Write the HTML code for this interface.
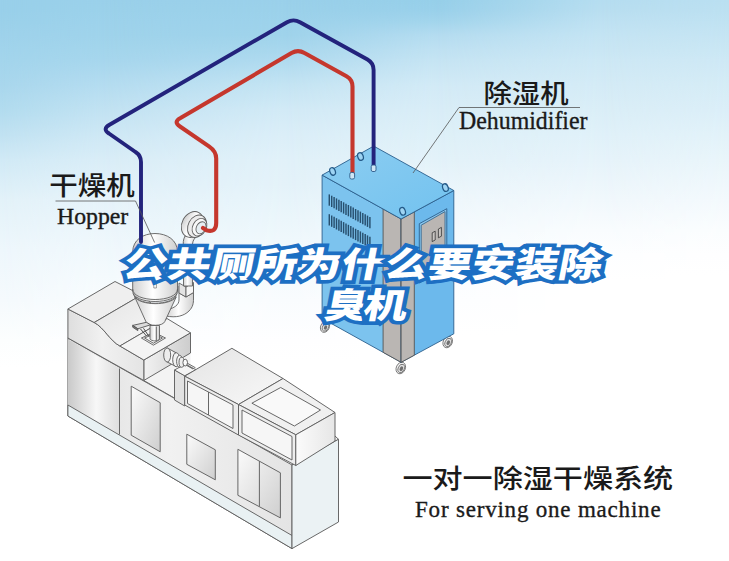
<!DOCTYPE html>
<html lang="zh">
<head>
<meta charset="utf-8">
<title>公共厕所为什么要安装除臭机</title>
<style>
html,body{margin:0;padding:0;background:#fff;}
body{width:729px;height:561px;overflow:hidden;position:relative;font-family:"Liberation Sans","Noto Sans CJK SC",sans-serif;}
svg{position:absolute;left:0;top:0;display:block;}
.cn{font-family:"Liberation Sans","Noto Sans CJK SC",sans-serif;fill:#1a1a1a;}
.en{font-family:"Liberation Serif","Noto Serif CJK SC",serif;fill:#1a1a1a;}
.hl{font-family:"Liberation Sans","Noto Sans CJK SC",sans-serif;font-weight:900;}
</style>
</head>
<body>
<svg width="729" height="561" viewBox="0 0 729 561">
<!-- BG-START -->
<defs>
<linearGradient id="bgc0" gradientUnits="userSpaceOnUse" x1="0" y1="0" x2="0" y2="561"><stop offset="0.0000" stop-color="#99d0ea"/><stop offset="0.0178" stop-color="#99d0ea"/><stop offset="0.0392" stop-color="#9bd1ea"/><stop offset="0.0624" stop-color="#9ed2eb"/><stop offset="0.0891" stop-color="#a1d4ec"/><stop offset="0.1070" stop-color="#a3d5ec"/><stop offset="0.1515" stop-color="#a9d7ed"/><stop offset="0.1961" stop-color="#b2dcef"/><stop offset="0.2406" stop-color="#c1e2f2"/><stop offset="0.2852" stop-color="#d1eaf6"/><stop offset="0.3565" stop-color="#e3f2f9"/><stop offset="0.4456" stop-color="#eef7fc"/><stop offset="0.5348" stop-color="#f5fafd"/><stop offset="0.6061" stop-color="#fcfefe"/><stop offset="0.6560" stop-color="#ffffff"/><stop offset="1" stop-color="#ffffff"/></linearGradient>
<linearGradient id="bgc1" gradientUnits="userSpaceOnUse" x1="0" y1="0" x2="0" y2="561"><stop offset="0.0000" stop-color="#9ad0ea"/><stop offset="0.0178" stop-color="#9bd1ea"/><stop offset="0.0392" stop-color="#9dd2eb"/><stop offset="0.0624" stop-color="#9fd3eb"/><stop offset="0.0891" stop-color="#a3d5ec"/><stop offset="0.1070" stop-color="#a6d6ed"/><stop offset="0.1515" stop-color="#b4dcf0"/><stop offset="0.1961" stop-color="#c1e2f2"/><stop offset="0.2406" stop-color="#cee8f5"/><stop offset="0.2852" stop-color="#d9edf7"/><stop offset="0.3565" stop-color="#e6f3fa"/><stop offset="0.4456" stop-color="#f0f8fc"/><stop offset="0.5348" stop-color="#f8fcfe"/><stop offset="0.6061" stop-color="#fdfeff"/><stop offset="0.6506" stop-color="#ffffff"/><stop offset="1" stop-color="#ffffff"/></linearGradient>
<linearGradient id="bgm1" gradientUnits="userSpaceOnUse" x1="0" y1="0" x2="729" y2="0"><stop offset="0.0000" stop-color="#000"/><stop offset="0.1372" stop-color="#fff"/></linearGradient>
<mask id="bgk1" maskUnits="userSpaceOnUse" x="0" y="0" width="729" height="561"><rect width="729" height="561" fill="url(#bgm1)"/></mask>
<linearGradient id="bgc2" gradientUnits="userSpaceOnUse" x1="0" y1="0" x2="0" y2="561"><stop offset="0.0000" stop-color="#9ad0ea"/><stop offset="0.0178" stop-color="#9bd1ea"/><stop offset="0.0392" stop-color="#9dd2eb"/><stop offset="0.0624" stop-color="#9fd3eb"/><stop offset="0.0891" stop-color="#a8d7ed"/><stop offset="0.1070" stop-color="#afdaef"/><stop offset="0.1515" stop-color="#c4e4f3"/><stop offset="0.1961" stop-color="#d2eaf6"/><stop offset="0.2406" stop-color="#dbeef8"/><stop offset="0.2852" stop-color="#e1f1f9"/><stop offset="0.3298" stop-color="#e4f2f9"/><stop offset="0.3565" stop-color="#e7f4fa"/><stop offset="0.4278" stop-color="#eff8fc"/><stop offset="0.5348" stop-color="#f9fcfe"/><stop offset="0.6061" stop-color="#fefeff"/><stop offset="0.6417" stop-color="#ffffff"/><stop offset="1" stop-color="#ffffff"/></linearGradient>
<linearGradient id="bgm2" gradientUnits="userSpaceOnUse" x1="0" y1="0" x2="729" y2="0"><stop offset="0.1372" stop-color="#000"/><stop offset="0.3909" stop-color="#fff"/></linearGradient>
<mask id="bgk2" maskUnits="userSpaceOnUse" x="0" y="0" width="729" height="561"><rect width="729" height="561" fill="url(#bgm2)"/></mask>
<linearGradient id="bgc3" gradientUnits="userSpaceOnUse" x1="0" y1="0" x2="0" y2="561"><stop offset="0.0000" stop-color="#96cfe9"/><stop offset="0.0178" stop-color="#99d0ea"/><stop offset="0.0392" stop-color="#a3d5ec"/><stop offset="0.0624" stop-color="#b4dcf0"/><stop offset="0.0891" stop-color="#bfe1f2"/><stop offset="0.1070" stop-color="#c5e4f3"/><stop offset="0.1515" stop-color="#d2eaf6"/><stop offset="0.1961" stop-color="#d9edf7"/><stop offset="0.2406" stop-color="#def0f8"/><stop offset="0.2852" stop-color="#e3f2f9"/><stop offset="0.3565" stop-color="#eef7fc"/><stop offset="0.4456" stop-color="#f8fcfe"/><stop offset="0.5348" stop-color="#fdfeff"/><stop offset="0.5971" stop-color="#ffffff"/><stop offset="1" stop-color="#ffffff"/></linearGradient>
<linearGradient id="bgm3" gradientUnits="userSpaceOnUse" x1="0" y1="0" x2="729" y2="0"><stop offset="0.3909" stop-color="#000"/><stop offset="0.5967" stop-color="#fff"/></linearGradient>
<mask id="bgk3" maskUnits="userSpaceOnUse" x="0" y="0" width="729" height="561"><rect width="729" height="561" fill="url(#bgm3)"/></mask>
<linearGradient id="bgc4" gradientUnits="userSpaceOnUse" x1="0" y1="0" x2="0" y2="561"><stop offset="0.0000" stop-color="#b5ddf0"/><stop offset="0.0178" stop-color="#b8def0"/><stop offset="0.0392" stop-color="#bee1f2"/><stop offset="0.0624" stop-color="#c4e4f3"/><stop offset="0.0891" stop-color="#c9e6f4"/><stop offset="0.1070" stop-color="#cde8f5"/><stop offset="0.1515" stop-color="#d4ebf6"/><stop offset="0.1961" stop-color="#daeef7"/><stop offset="0.2406" stop-color="#e0f1f9"/><stop offset="0.2852" stop-color="#e6f3fa"/><stop offset="0.3565" stop-color="#f1f8fc"/><stop offset="0.4100" stop-color="#f9fcfe"/><stop offset="0.4545" stop-color="#fdfeff"/><stop offset="0.4991" stop-color="#ffffff"/><stop offset="1" stop-color="#ffffff"/></linearGradient>
<linearGradient id="bgm4" gradientUnits="userSpaceOnUse" x1="0" y1="0" x2="729" y2="0"><stop offset="0.5967" stop-color="#000"/><stop offset="0.8230" stop-color="#fff"/></linearGradient>
<mask id="bgk4" maskUnits="userSpaceOnUse" x="0" y="0" width="729" height="561"><rect width="729" height="561" fill="url(#bgm4)"/></mask>
<linearGradient id="bgc5" gradientUnits="userSpaceOnUse" x1="0" y1="0" x2="0" y2="561"><stop offset="0.0000" stop-color="#badff1"/><stop offset="0.0178" stop-color="#bce0f1"/><stop offset="0.0392" stop-color="#c0e2f2"/><stop offset="0.0624" stop-color="#c5e4f3"/><stop offset="0.0891" stop-color="#cae7f4"/><stop offset="0.1070" stop-color="#cee8f5"/><stop offset="0.1515" stop-color="#d5ecf6"/><stop offset="0.1961" stop-color="#dbeef8"/><stop offset="0.2406" stop-color="#e2f2f9"/><stop offset="0.2852" stop-color="#e9f5fa"/><stop offset="0.3565" stop-color="#f3f9fd"/><stop offset="0.4100" stop-color="#fafdfe"/><stop offset="0.4545" stop-color="#fefeff"/><stop offset="0.4902" stop-color="#ffffff"/><stop offset="1" stop-color="#ffffff"/></linearGradient>
<linearGradient id="bgm5" gradientUnits="userSpaceOnUse" x1="0" y1="0" x2="729" y2="0"><stop offset="0.8230" stop-color="#000"/><stop offset="1.0000" stop-color="#fff"/></linearGradient>
<mask id="bgk5" maskUnits="userSpaceOnUse" x="0" y="0" width="729" height="561"><rect width="729" height="561" fill="url(#bgm5)"/></mask>
</defs>
<!-- background -->
<rect width="729" height="561" fill="url(#bgc0)"/>
<rect x="0" width="729" height="380" fill="url(#bgc1)" mask="url(#bgk1)"/>
<rect x="100" width="629" height="380" fill="url(#bgc2)" mask="url(#bgk2)"/>
<rect x="285" width="444" height="380" fill="url(#bgc3)" mask="url(#bgk3)"/>
<rect x="435" width="294" height="380" fill="url(#bgc4)" mask="url(#bgk4)"/>
<rect x="600" width="129" height="380" fill="url(#bgc5)" mask="url(#bgk5)"/>
<!-- BG-END -->

<!-- BODY-MACHINE-START -->
<defs>
  <linearGradient id="gFront" x1="0" y1="0" x2="1" y2="0">
    <stop offset="0" stop-color="#dedede"/><stop offset="0.45" stop-color="#f1f1f1"/><stop offset="1" stop-color="#e4e4e4"/>
  </linearGradient>
  <linearGradient id="gLeftPanel" x1="0" y1="0" x2="1" y2="0">
    <stop offset="0" stop-color="#c9c9c9"/><stop offset="0.55" stop-color="#f7f7f7"/><stop offset="1" stop-color="#dedede"/>
  </linearGradient>
  <linearGradient id="gPanel" x1="0" y1="0" x2="1" y2="1">
    <stop offset="0" stop-color="#fbfbfb"/><stop offset="1" stop-color="#cfcfcf"/>
  </linearGradient>
  <linearGradient id="gTop" x1="0" y1="0" x2="1" y2="1">
    <stop offset="0" stop-color="#e4e4e4"/><stop offset="1" stop-color="#f8f8f8"/>
  </linearGradient>
  <linearGradient id="gSideR" x1="0" y1="0" x2="1" y2="0"><stop offset="0" stop-color="#f2f2f2"/><stop offset="1" stop-color="#cdcdcd"/></linearGradient>
  <linearGradient id="gSide2" x1="0" y1="0" x2="1" y2="0"><stop offset="0" stop-color="#fbfbfb"/><stop offset="1" stop-color="#e6e6e6"/></linearGradient>
  <linearGradient id="gSide" x1="0" y1="0" x2="1" y2="0">
    <stop offset="0" stop-color="#d9d9d9"/><stop offset="1" stop-color="#efefef"/>
  </linearGradient>
  <linearGradient id="gCyl" x1="0" y1="0" x2="1" y2="0">
    <stop offset="0" stop-color="#d0d0d0"/><stop offset="0.45" stop-color="#ffffff"/><stop offset="1" stop-color="#cfcfcf"/>
  </linearGradient>
</defs>
<g id="machine" stroke="#606060" stroke-width="0.95" stroke-linejoin="round">
  <!-- main body top -->
  <polygon points="143.8,380.5 190.4,353.2 190.4,366.5 184.7,376.2 184.7,405" fill="#f3f3f3" stroke="none"/>
  <path d="M143.8 380.5 L184.7 404" fill="none"/>
  <polygon points="292,465 300,455 335,436 338.5,439.3" fill="#f3f3f3"/>
  <!-- main body front -->
  <polygon points="67.9,338 292,465 292,548.6 67.9,416" fill="url(#gFront)"/>
  <!-- left gradient region -->
  <polygon points="67.9,339.5 119.5,368.5 119.5,434.5 67.9,405" fill="url(#gLeftPanel)" stroke="none"/>
  <path d="M119.5 368.5 V434.5" fill="none"/>
  <!-- base strip front -->
  <polygon points="67.9,405 292,535.5 292,548.6 67.9,416" fill="#e9f1f3"/>
  <!-- main right face -->
  <polygon points="292,465 338.5,439.3 338.5,522 292,548.6" fill="#ebf2f4"/>
  
  <!-- front panels -->
  <polygon points="131.2,386.2 160.2,402.7 160.2,451.8 131.2,435.2" fill="url(#gPanel)"/>
  <polygon points="186.8,434.2 215.3,449.8 215.3,479.8 186.8,464.3" fill="url(#gPanel)"/>
  <polygon points="237.9,449.3 280.4,472.8 280.4,517.9 237.9,495.3" fill="url(#gPanel)"/>
  <path d="M259.4 461.2 V506.5" fill="none"/>

  <!-- step box (left) -->
  <polygon points="143.8,360 190.5,332.8 190.5,353 143.8,380.5" fill="url(#gSideR)"/>
  <path d="M67.9 309 L94.2 322.5 C104 327.5 110 341 119.9 346 L143.8 360 V380.5 L67.9 338 Z" fill="url(#gFront)"/>
  <polygon points="67.9,309 115,281.5 141.3,295 94.2,322.5" fill="#efefef"/>
  <path d="M94.2 322.5 L141.3 295 C151 300 157 313.5 167 318.5 L119.9 346 C110 341 104 327.5 94.2 322.5 Z" fill="url(#gTop)"/>
  <polygon points="119.9,346 167,318.5 190.5,332.8 143.8,360" fill="#f4f4f4"/>


  <!-- small block before mid box -->
  <polygon points="174.5,370 184.7,375.5 184.7,406 174.5,400" fill="#e2e2e2"/>
  <polygon points="174.5,370 185.3,364 196,369.8 184.7,375.8" fill="#f4f4f4"/>

  <!-- nozzle -->
  <g>
    <path d="M167.2 348 L176.2 352.8 L176.2 366.6 L167.2 362 Z" fill="url(#gCyl)" stroke="none"/>
    <path d="M167.2 348 L176.2 352.8 M167.2 362 L176.2 366.6" fill="none"/>
    <ellipse cx="167.2" cy="355" rx="3.5" ry="7" fill="#ececec"/>
    <ellipse cx="176.2" cy="359.7" rx="3.5" ry="7" fill="#f2f2f2"/>
    <ellipse cx="179.6" cy="361.3" rx="3" ry="6" fill="#f6f6f6"/>
    <ellipse cx="181.6" cy="362.3" rx="2.6" ry="5" fill="#ededed"/>
    <ellipse cx="185.2" cy="362.6" rx="2.3" ry="3.4" fill="#fafafa"/>
    <path d="M187.3 363.2 L195.5 367.8 M186.5 365.3 L193 369" fill="none"/>
  </g>

  <!-- mid box -->
  <polygon points="184.7,376.2 231.9,348.3 283,378.5 238.5,404.5" fill="url(#gTop)"/>
  <polygon points="184.7,376.2 238.5,404.5 238.5,435 184.7,405" fill="#ececec"/>
  <polygon points="187.5,381 233,405 233,428.5 187.5,403.5" fill="#f6f6f6"/>
  <path d="M208.5 392 V415" fill="none"/>

  <!-- right box -->
  <polygon points="238.5,404.5 283,378.5 335,412.5 295.8,434.8" fill="#f0f0f0"/>
  <polygon points="251.9,403.2 280.7,387.5 320.5,410 294.4,426" fill="#f9f9f9"/>
  <polygon points="238.5,404.5 295.8,434.8 295.8,465.5 238.5,435" fill="#ededed"/>
  <polygon points="242,410 292,436.5 292,460 242,433" fill="#f6f6f6"/>
  <polygon points="295.8,434.8 335,412.5 335,441 295.8,465.5" fill="url(#gSide2)"/>
</g>
<!-- BODY-MACHINE-END -->
<!-- DEHUM-START -->
<defs>
  <linearGradient id="dTop" x1="0" y1="0" x2="1" y2="1">
    <stop offset="0" stop-color="#8ccdf1"/><stop offset="1" stop-color="#72c2ef"/>
  </linearGradient>
</defs>
<g id="dehum" stroke="#2b5f8c" stroke-width="0.9" stroke-linejoin="round">
  <!-- wheels -->
  <g stroke="#6a6a6a" stroke-width="0.8" fill="#f4f4f4">
    <g transform="rotate(25 325 326.8)"><ellipse cx="325" cy="326.8" rx="4.3" ry="5.8"/><ellipse cx="325.6" cy="327" rx="2.9" ry="4.2" fill="#e2e2e2"/><ellipse cx="325.8" cy="327.2" rx="1.5" ry="2.3" fill="#6f6f6f" stroke="none"/></g>
    <g transform="rotate(25 400.8 368)"><ellipse cx="400.8" cy="368" rx="4.5" ry="6"/><ellipse cx="401.4" cy="368.2" rx="3" ry="4.4" fill="#e2e2e2"/><ellipse cx="401.6" cy="368.4" rx="1.6" ry="2.5" fill="#6f6f6f" stroke="none"/></g>
    <g transform="rotate(25 447.7 342)"><ellipse cx="447.7" cy="342" rx="4.5" ry="6"/><ellipse cx="448.3" cy="342.2" rx="3" ry="4.4" fill="#e2e2e2"/><ellipse cx="448.5" cy="342.4" rx="1.6" ry="2.5" fill="#6f6f6f" stroke="none"/></g>
  </g>
  <!-- left face -->
  <polygon points="322.1,175.1 401.1,219 401.1,362.3 322.1,318.4" fill="#7cc3ee"/>
  <polygon points="383.1,209 401.1,219 401.1,362.3 383.1,352.3" fill="#bab6b3" stroke="#555"/>
  <!-- right face -->
  <polygon points="401.1,219 453.8,190.5 453.8,333.8 401.1,362.3" fill="#6cb9ec"/>
  <polygon points="401.1,219 414.3,211.9 414.3,355.2 401.1,362.3" fill="#bab6b3" stroke="#555"/>
  <!-- top face -->
  <polygon points="322.1,175.1 373.7,146.1 453.8,190.5 401.1,219" fill="url(#dTop)"/>
  <!-- control panel -->
  <polygon points="419.3,223.7 446.8,208.7 446.8,268 419.3,283" fill="#8ac6ec"/>
  <polygon points="421.2,225.2 445,211.6 445,266 421.2,279" fill="#bab6b3" stroke="#3a6a90"/>
  <g fill="#c9c5c2" stroke="#333" stroke-width="0.8">
    <polygon points="432.2,232.8 435.2,231.2 435.2,240 432.2,241.6"/>
    <polygon points="438.4,229 441.4,227.4 441.4,236.2 438.4,237.8"/>
  </g>
  <!-- vents -->
  <g id="vents" stroke="#274f6e" stroke-width="1.45" fill="none">
<path d="M329.3 194.4 V205.7"/>
<path d="M331.7 195.7 V207.0"/>
<path d="M334.1 197.0 V208.3"/>
<path d="M336.5 198.4 V209.7"/>
<path d="M338.9 199.7 V211.0"/>
<path d="M341.2 201.0 V212.3"/>
<path d="M343.6 202.3 V213.6"/>
<path d="M346.0 203.7 V215.0"/>
<path d="M348.4 205.0 V216.3"/>
<path d="M350.8 206.3 V217.6"/>
<path d="M353.2 207.6 V218.9"/>
<path d="M355.6 209.0 V220.3"/>
<path d="M358.0 210.3 V221.6"/>
<path d="M360.4 211.6 V222.9"/>
<path d="M362.8 212.9 V224.2"/>
<path d="M365.2 214.3 V225.6"/>
<path d="M367.5 215.6 V226.9"/>
<path d="M369.9 216.9 V228.2"/>
<path d="M329.3 214.2 V225.5"/>
<path d="M331.7 215.5 V226.8"/>
<path d="M334.1 216.8 V228.1"/>
<path d="M336.5 218.2 V229.5"/>
<path d="M338.9 219.5 V230.8"/>
<path d="M341.2 220.8 V232.1"/>
<path d="M343.6 222.1 V233.4"/>
<path d="M346.0 223.5 V234.8"/>
<path d="M348.4 224.8 V236.1"/>
<path d="M350.8 226.1 V237.4"/>
<path d="M353.2 227.4 V238.7"/>
<path d="M355.6 228.8 V240.1"/>
<path d="M358.0 230.1 V241.4"/>
<path d="M360.4 231.4 V242.7"/>
<path d="M362.8 232.7 V244.0"/>
<path d="M365.2 234.1 V245.4"/>
<path d="M367.5 235.4 V246.7"/>
<path d="M369.9 236.7 V248.0"/>
  </g>
  <!-- eye bolts -->
  <g fill="#9ed4f3" stroke="#245a88" stroke-width="1.25">
    <ellipse cx="332.6" cy="171.4" rx="2.7" ry="3.9" transform="rotate(-20 332.6 171.4)"/>
    <ellipse cx="360.5" cy="156.5" rx="2.7" ry="3.9" transform="rotate(-20 360.5 156.5)"/>
    <ellipse cx="445.4" cy="187.6" rx="2.7" ry="3.9" transform="rotate(-20 445.4 187.6)"/>
    <ellipse cx="402.6" cy="211.3" rx="2.7" ry="3.9" transform="rotate(-20 402.6 211.3)"/>
  </g>
</g>
<!-- DEHUM-END -->
<!-- HOPPER-START -->
<g id="hopper" stroke="#606060" stroke-width="0.9" stroke-linejoin="round" fill="#f3f3f3">
  <!-- elbow tube from blower to cone -->
  <path d="M179 286 L179 300 C179 305 174 308 168 309.5 L166 316 C176 318 184 316 189 311 C193 307 193.5 303 193.5 299 L193.5 286 Z" fill="url(#gCyl)"/>
  <path d="M179 293 L186 297 L193.5 292.5" fill="none"/>
  <polygon points="179,283 186,287 186,297 179,293" fill="#e3e3e3"/>
  <polygon points="186,287 193.5,282.5 193.5,292.5 186,297" fill="#f6f6f6"/>
  <!-- vertical tube blower->box -->
  <path d="M183.5 243 L183.5 286 L192.5 286 L192.5 243 Z" fill="url(#gCyl)"/>
  <!-- blower -->
  <path d="M185 236 C183 240 183 243 183.5 246 L192.5 246 C192.5 242 193 240 196 237 Z" fill="url(#gCyl)"/>
  <ellipse cx="192.5" cy="224.5" rx="10.5" ry="13.5" transform="rotate(28 192.5 224.5)" fill="url(#gCyl)"/>
  <ellipse cx="197" cy="226.2" rx="8.8" ry="11.8" transform="rotate(28 197 226.2)" fill="#ececec"/>
  <ellipse cx="199.5" cy="227.2" rx="6.8" ry="9.3" transform="rotate(28 199.5 227.2)" fill="#f8f8f8"/>
  <ellipse cx="201" cy="227.8" rx="4.6" ry="6.4" transform="rotate(28 201 227.8)" fill="#e6eef2"/>
  <!-- hopper cylinder -->
  <path d="M132.7 291 L132.7 252 C132.7 240 143 233.5 155 233.5 C167 233.5 177.5 240 177.5 252 L177.5 291 C177.5 305 132.7 305 132.7 291 Z" fill="url(#gCyl)"/>
  <path d="M132.7 289 C132.7 303 177.5 303 177.5 289" fill="none"/>
  <path d="M133.2 293.5 C136 306.5 174 306.5 177 293.5" fill="none"/>
  <!-- cone -->
  <path d="M134.5 296.5 C140 306 170 306 176.3 296.8 L164.8 321.5 C163 326.5 148 326.5 146 321.8 Z" fill="url(#gCyl)"/>
  <!-- sight tag -->
  <rect x="153.8" y="284" width="2.6" height="4" fill="#fff" stroke-width="0.6"/>
  <!-- base plate & neck -->
  <polygon points="141.4,338 154,332.3 165.5,338 153.4,345.2" fill="#e9e9e9"/>
  <polygon points="144.6,338 154,333.8 162.4,338 153.4,343.2" fill="#f7f7f7"/>
  <path d="M150 325.5 L150 339 C151.5 341.5 158 341.5 159.5 339 L159.5 325.5 Z" fill="url(#gCyl)"/>
  <path d="M156.3 326.5 V340.5" stroke="#555" fill="none"/>
  <!-- slide gate -->
  <polygon points="132.7,325.4 146.4,322.3 150.6,324.8 137.8,328.8" fill="#dcdcdc" stroke="#555"/>
  <polygon points="132.7,325.4 137.8,328.8 137.8,330.6 132.7,327.2" fill="#7d7d7d" stroke="#555"/>
  <path d="M140.5 329 L146.5 336 M143.5 328.3 L149 336.5" stroke="#4a4a4a" stroke-width="1" fill="none"/>
</g>
<!-- HOPPER-END -->
<!-- pipes -->
<g fill="none" stroke-linecap="round" stroke-linejoin="round">
  <path id="pipeBlue" stroke="#23237c" stroke-width="3.9" d="M141 242 L141 162 Q141 155.5 135.5 152 L109 133.5 Q102 129 109.5 124.8 L287 22.2 Q293.5 18.5 300 22.2 L367.5 59.5 Q373.6 63 373.6 70 L373.6 170"/>
  <path id="pipeRed" stroke="#c5372d" stroke-width="4.1" d="M203 228 L206.5 230.3 Q216.2 233 216.2 223 L216.2 158.5 Q216.2 151.3 209 146.4 L180 126.5 Q173 122 180.5 118 L291.5 53 Q298 49.2 304.5 53 L346.5 76.2 Q352.5 79.6 352.5 86.5 L352.5 176"/>
</g>

<!-- pipe sockets -->
<g fill="#cfe6f5" stroke="#2b5f8c" stroke-width="0.9">
  <rect x="349.8" y="172.5" width="4.8" height="6.5" rx="1.6"/>
  <rect x="371.2" y="165" width="4.8" height="6.5" rx="1.6"/>
</g>

<!-- labels -->
<g stroke="#555" stroke-width="0.8" fill="none">
  <path d="M55.5 201 L135.5 201 L154.6 242.5"/>
  <path d="M580 107.5 L459 107.5 L413 173"/>
</g>
<g class="cn" font-weight="500">
  <text transform="translate(49.3 195.4) scale(1.105 1)" font-size="25.8">干燥机</text>
  <text transform="translate(483.4 102.8) scale(1.10 1)" font-size="25.8">除湿机</text>
  <text transform="translate(402.4 488.4) scale(1.136 1)" font-size="26.5">一对一除湿干燥系统</text>
</g>
<g class="en" stroke="#1a1a1a" stroke-width="0.35">
  <text x="57" y="223.6" font-size="23" textLength="71.2" lengthAdjust="spacingAndGlyphs">Hopper</text>
  <text x="459" y="129" font-size="25" textLength="128.5" lengthAdjust="spacingAndGlyphs">Dehumidifier</text>
  <text x="415" y="516.9" font-size="23" textLength="245.6" lengthAdjust="spacing">For serving one machine</text>
</g>

<!-- headline -->
<g class="hl" font-size="35" text-anchor="middle" fill="#fff" stroke="#1d6fc3" stroke-width="7.2" stroke-linejoin="miter" stroke-miterlimit="2.5" paint-order="stroke fill" style="paint-order:stroke fill">
  <g transform="translate(364.5 266) skewX(-11) scale(1.25 1) translate(-364.5 -266)"><text x="363.6" y="277.4" textLength="383" lengthAdjust="spacing">公共厕所为什么要安装除</text></g>
  <g transform="translate(365.5 306) skewX(-11) scale(1.25 1) translate(-365.5 -306)"><text x="366.4" y="318.5" textLength="66" lengthAdjust="spacing">臭机</text></g>
</g>
</svg>
</body>
</html>
